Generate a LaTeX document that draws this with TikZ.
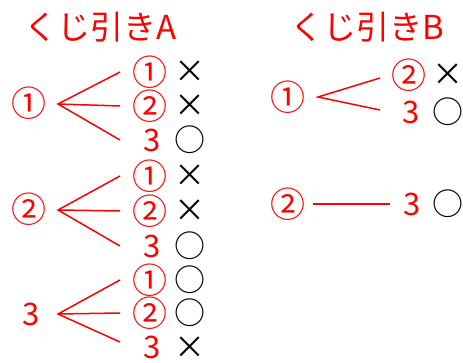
\documentclass[tikz,border=0pt]{standalone}
\usepackage{fontspec}
\setmainfont{Noto Sans CJK JP}
\begin{document}
\begin{tikzpicture}[x=1pt,y=-1pt,
  circ/.style={text=red, font=\fontsize{35}{35}\selectfont, inner sep=0pt},
  num/.style={text=red, font=\fontsize{31}{31}\selectfont, inner sep=0pt},
  ttl/.style={text=red, font=\fontsize{33}{33}\selectfont, inner sep=0pt},
  mk/.style={text=black, font=\fontsize{31}{31}\selectfont, inner sep=0pt},
  lastrow/.style={anchor=base, text depth=0pt},
  br/.style={draw=red, line width=1.5pt}]
\useasboundingbox (0,0) rectangle (463,363);

% titles
\node[ttl] (tA) at (101,27) {くじ引きA};
\node[ttl] (tB) at (367,27) {くじ引きB};

% ---- くじ引きA ----
\coordinate (endA) at (120,0);
% first draw
\node[circ] (a1) at (29,103) {①};
\node[circ] (a2) at (29,209) {②};
\node[num] (a3) at (31,314) {3};
\coordinate (a1f) at (58,104);
\coordinate (a2f) at (58,210);
\coordinate (a3f) at (58,314);
% second draw
\node[circ] (a11) at (150,72) {①};  \node[mk] (m11) at (190,72) {×};
\node[circ] (a12) at (150,106) {②}; \node[mk] (m12) at (190,106) {×};
\node[num] (a13) at (152,140) {3};   \node[mk] (m13) at (190,140) {○};
\node[circ] (a21) at (150,176) {①}; \node[mk] (m21) at (190,176) {×};
\node[circ] (a22) at (150,211) {②}; \node[mk] (m22) at (190,211) {×};
\node[num] (a23) at (152,246) {3};   \node[mk] (m23) at (190,246) {○};
\node[circ] (a31) at (150,280) {①}; \node[mk] (m31) at (190,280) {○};
\node[circ] (a32) at (150,313) {②}; \node[mk] (m32) at (190,313) {○};
\node[num,lastrow] (a33) at (152,358) {3};   \node[mk,lastrow] (m33) at (190,358) {×};
\coordinate (a33e) at (120,342);

\draw[br] (endA |- a11) -- (a1f) -- (endA |- a13);
\draw[br] (a1f) -- (endA |- a12);
\draw[br] (endA |- a21) -- (a2f) -- (endA |- a23);
\draw[br] (a2f) -- (endA |- a22);
\draw[br] (endA |- a31) -- (a3f) -- (a33e);
\draw[br] (a3f) -- (endA |- a32);

% ---- くじ引きB ----
\node[circ] (b1) at (288,97) {①};
\node[circ] (b2) at (288,204) {②};
\coordinate (b1f) at (318,97);
\coordinate (b2f) at (313,204);
\node[circ] (b12) at (409,75) {②}; \node[mk] (n12) at (448,75) {×};
\node[num] (b13) at (411,112) {3};  \node[mk] (n13) at (448,112) {○};
\node[num] (b23) at (412,204) {3};  \node[mk] (n23) at (448,204) {○};
\coordinate (b12e) at (380,78);
\coordinate (b13e) at (380,110);
\coordinate (b23e) at (390,204);
\draw[br] (b12e) -- (b1f) -- (b13e);
\draw[br] (b2f) -- (b23e);
\end{tikzpicture}
\end{document}
